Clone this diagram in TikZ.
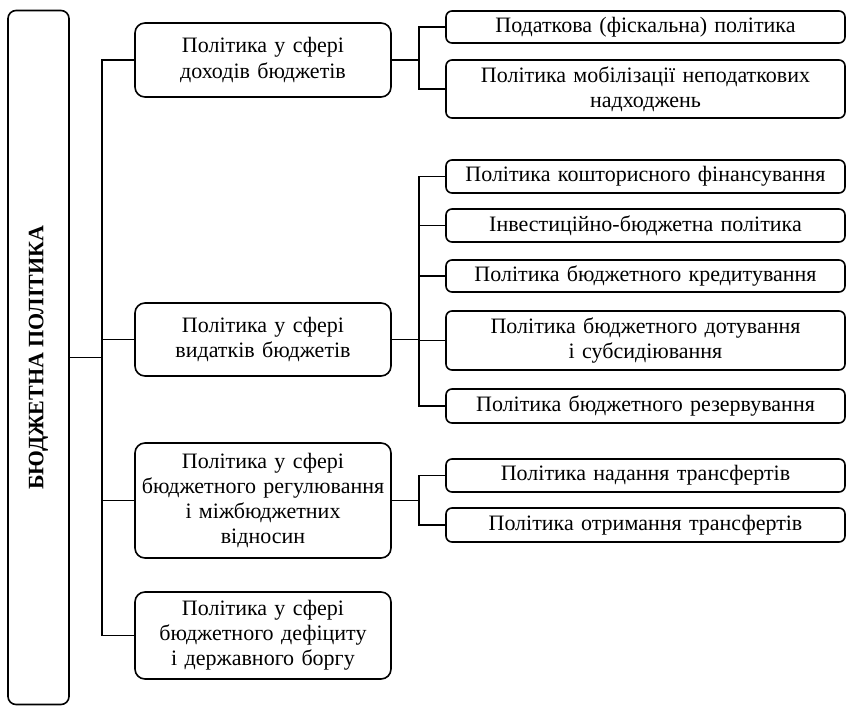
\documentclass[tikz,border=0pt]{standalone}
\usepackage{fontspec}
\setmainfont{Liberation Serif}
\usetikzlibrary{positioning}

\tikzset{
  polbox/.style = {draw, line width=0.8pt, rounded corners=4pt, align=center,
                   inner sep=2pt},
  mainbox/.style = {polbox, rounded corners=5pt, minimum width=128pt, text width=124pt},
  subbox/.style = {polbox, rounded corners=3pt, minimum width=199.5pt, text width=195pt},
  link/.style = {line width=0.95pt}
}

\begin{document}
\begin{tikzpicture}[x=0.5pt, y=-0.5pt, font=\fontsize{11}{12.6}\selectfont]

        \useasboundingbox (0, 0) rectangle (846, 706);

        % left column
        \node (pol) at (38.5, 357.5) [polbox, rotate=90, minimum width=347pt,
              minimum height=30.5pt, font=\fontsize{11}{13}\selectfont\bfseries]
              {БЮДЖЕТНА ПОЛІТИКА};

        % first level
        \node (dohody) at (263, 60) [mainbox, minimum height=37pt]
              {Політика у сфері\\доходів бюджетів};
        \node (vydatky) at (263, 339.5) [mainbox, minimum height=36.5pt]
              {Політика у сфері\\видатків бюджетів};
        \node (rehul) at (263, 500.5) [mainbox, minimum height=57.5pt]
              {Політика у сфері\\бюджетного регулювання\\і міжбюджетних\\відносин};
        \node (borh) at (263, 635.5) [mainbox, minimum height=43.5pt]
              {Політика у сфері\\бюджетного дефіциту\\і державного боргу};

        % second level
        \node (podatk) at (645.5, 27) [subbox, minimum height=16pt]
              {Податкова (фіскальна) політика};
        \node (nepodat) at (645.5, 89) [subbox, minimum height=29pt]
              {Політика мобілізації неподаткових\\надходжень};

        \node (kosht) at (645.5, 176.5) [subbox, minimum height=16.5pt]
              {Політика кошторисного фінансування};
        \node (invest) at (645.5, 225.5) [subbox, minimum height=16.5pt]
              {Інвестиційно-бюджетна політика};
        \node (kredyt) at (645.5, 276) [subbox, minimum height=16pt]
              {Політика бюджетного кредитування};
        \node (dotuv) at (645.5, 340.5) [subbox, minimum height=29.5pt]
              {Політика бюджетного дотування\\і субсидіювання};
        \node (rezerv) at (645.5, 406) [subbox, minimum height=17pt]
              {Політика бюджетного резервування};

        \node (nadan) at (645.5, 475.5) [subbox, minimum height=16.5pt]
              {Політика надання трансфертів};
        \node (otrym) at (645.5, 525) [subbox, minimum height=17pt]
              {Політика отримання трансфертів};

        % connectors
        \coordinate (trunk) at (102, 0);
        \coordinate (br) at (419, 0);

        \draw [link] (pol.south) -- (pol.south -| trunk);
        \draw [link] (dohody.west) -| (dohody.west -| trunk) |- (borh.west);
        \draw [link] (vydatky.west) -- (vydatky.west -| trunk);
        \draw [link] (rehul.west) -- (rehul.west -| trunk);

        \draw [link] (dohody.east) -- (dohody.east -| br);
        \draw [link] (podatk.west) -| (dohody.east -| br) |- (nepodat.west);

        \draw [link] (vydatky.east) -- (vydatky.east -| br);
        \draw [link] (kosht.west) -| (vydatky.east -| br) |- (rezerv.west);
        \foreach \n in {invest, kredyt, dotuv}
            \draw [link] (\n.west) -- (\n.west -| br);

        \draw [link] (rehul.east) -- (rehul.east -| br);
        \draw [link] (nadan.west) -| (rehul.east -| br) |- (otrym.west);

    \end{tikzpicture}
\end{document}
